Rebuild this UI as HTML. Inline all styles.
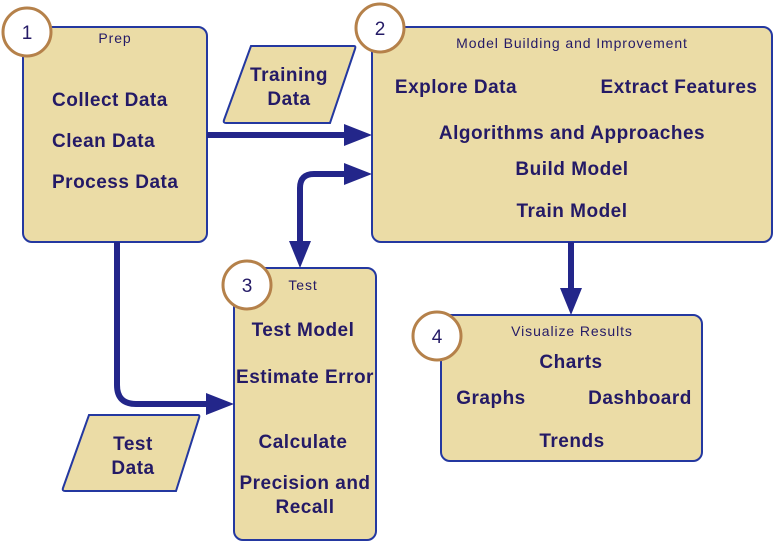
<!DOCTYPE html>
<html><head><style>
html,body{margin:0;padding:0;background:#fff;}
svg{display:block;}
text{font-family:"Liberation Sans",sans-serif;fill:#241a66;}
.b{font-weight:bold;font-size:19px;letter-spacing:0.5px;}
.s{font-size:14px;letter-spacing:0.9px;}
.c{font-size:19px;}
</style></head><body>
<svg width="773" height="542" viewBox="0 0 773 542" xmlns="http://www.w3.org/2000/svg">
<g fill="#ebdca6" stroke="#2438a0" stroke-width="2">
<rect x="23" y="27" width="184" height="215" rx="9"/>
<rect x="372" y="27" width="400" height="215" rx="9"/>
<rect x="234" y="268" width="142" height="272" rx="9"/>
<rect x="441" y="315" width="261" height="146" rx="9"/>
<path d="M251,46 L354,46 Q356,46 355,49 L330,123 L226,123 Q223,123 224,120 Z"/>
<path d="M89,415 L198,415 Q200,415 199,418 L176,491 L65,491 Q62,491 63,488 Z"/>
</g>
<g stroke="#23268a" stroke-width="6" fill="none">
<path d="M207,135 L350,135"/>
<path d="M300,246 L300,188 Q300,174 314,174 L350,174"/>
<path d="M117,242 L117,385 Q117,404 136,404 L212,404"/>
<path d="M571,242 L571,292"/>
</g>
<g fill="#23268a">
<path d="M344,124 L372,135 L344,146 Z"/>
<path d="M344,163 L372,174 L344,185 Z"/>
<path d="M289,241 L311,241 L300,268 Z"/>
<path d="M206,393 L234,404 L206,415 Z"/>
<path d="M560,288 L582,288 L571,315 Z"/>
</g>
<g fill="#fff" stroke="#b5814a" stroke-width="3">
<circle cx="27" cy="32" r="24"/>
<circle cx="380" cy="28" r="24"/>
<circle cx="247" cy="285" r="24"/>
<circle cx="437" cy="336" r="24"/>
</g>
<g class="c" text-anchor="middle">
<text x="27" y="39">1</text>
<text x="380" y="35">2</text>
<text x="247" y="292">3</text>
<text x="437" y="343">4</text>
</g>
<g class="s" text-anchor="middle">
<text x="115" y="43">Prep</text>
<text x="572" y="48">Model Building and Improvement</text>
<text x="303" y="290">Test</text>
<text x="572" y="336">Visualize Results</text>
</g>
<g class="b">
<text x="52" y="106">Collect Data</text>
<text x="52" y="147">Clean Data</text>
<text x="52" y="188">Process Data</text>
</g>
<g class="b" text-anchor="middle">
<text x="289" y="81">Training</text>
<text x="289" y="105">Data</text>
<text x="133" y="450">Test</text>
<text x="133" y="474">Data</text>
<text x="456" y="93">Explore Data</text>
<text x="679" y="93">Extract Features</text>
<text x="572" y="139">Algorithms and Approaches</text>
<text x="572" y="175">Build Model</text>
<text x="572" y="217">Train Model</text>
<text x="303" y="336">Test Model</text>
<text x="305" y="383">Estimate Error</text>
<text x="303" y="448">Calculate</text>
<text x="305" y="489">Precision and</text>
<text x="305" y="513">Recall</text>
<text x="571" y="368">Charts</text>
<text x="491" y="404">Graphs</text>
<text x="640" y="404">Dashboard</text>
<text x="572" y="447">Trends</text>
</g>
</svg>
</body></html>
